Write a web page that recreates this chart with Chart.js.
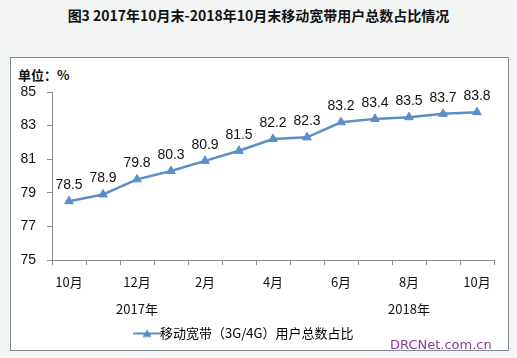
<!DOCTYPE html>
<html>
<head>
<meta charset="utf-8">
<script src="https://cdn.jsdelivr.net/npm/chart.js@4"></script>
<style>
  html, body { margin: 0; padding: 0; background: #f3f5f5; }
  body { width: 517px; height: 358px; position: relative; overflow: hidden; font-family: "Noto Sans CJK SC", sans-serif; }
  #title { position: absolute; left: 0; top: 5px; width: 517px; text-align: center; font-size: 14px; font-weight: bold; color: #111; }
  #box { position: absolute; left: 10px; top: 57px; width: 497px; height: 292px; border: 1px solid #7f8c94; background: #fff; }
  #unit { position: absolute; left: 18px; top: 65px; font-size: 13px; font-weight: bold; color: #111; }
  #mark { position: absolute; left: 390px; top: 337px; font-size: 13px; color: #8a3a9a; font-family: "DejaVu Sans", sans-serif; }
  canvas { position: absolute; left: 0; top: 0; }
</style>
</head>
<body>
<div id="title">图3 2017年10月末-2018年10月末移动宽带用户总数占比情况</div>
<div id="box"></div>
<div id="unit">单位：%</div>
<canvas id="chart" width="517" height="358"></canvas>
<div id="mark">DRCNet.com.cn</div>
<script>
// 2017年10月 - 2018年10月
const months = ['10月', '11月', '12月', '1月', '2月', '3月', '4月', '5月', '6月', '7月', '8月', '9月', '10月'];
const shownMonths = [true, false, true, false, true, false, true, false, true, false, true, false, true];
const yearLabels = ['', '', '2017年', '', '', '', '', '', '', '', '2018年', '', ''];
const share = [78.5, 78.9, 79.8, 80.3, 80.9, 81.5, 82.2, 82.3, 83.2, 83.4, 83.5, 83.7, 83.8];
const seriesName = '移动宽带（3G/4G）用户总数占比';
const lineColor = '#5b8ec9';

const labels = months.map((m, i) => {
    const first = shownMonths[i] ? m : '';
    return yearLabels[i] ? [first, yearLabels[i]] : first;
});

// legend symbol: line with triangle
const legendIcon = document.createElement('canvas');
legendIcon.width = 28;
legendIcon.height = 10;
(function() {
    const c = legendIcon.getContext('2d');
    c.strokeStyle = lineColor;
    c.lineWidth = 2;
    c.beginPath();
    c.moveTo(0, 5);
    c.lineTo(28, 5);
    c.stroke();
    c.fillStyle = lineColor;
    c.beginPath();
    c.moveTo(14, 1);
    c.lineTo(18.5, 8.5);
    c.lineTo(9.5, 8.5);
    c.closePath();
    c.fill();
})();

const valueLabels = {
    id: 'valueLabels',
    afterDatasetsDraw(chart) {
        const ctx = chart.ctx;
        const meta = chart.getDatasetMeta(0);
        ctx.save();
        ctx.font = '14px "Liberation Sans", sans-serif';
        ctx.fillStyle = '#111';
        ctx.textAlign = 'center';
        ctx.textBaseline = 'middle';
        meta.data.forEach((pt, i) => {
            ctx.fillText(share[i].toFixed(1), pt.x, pt.y - 16);
        });
        ctx.restore();
    }
};

new Chart(document.getElementById('chart'), {
    type: 'line',
    data: {
        labels: labels,
        datasets: [{
            label: seriesName,
            data: share,
            borderColor: lineColor,
            backgroundColor: lineColor,
            borderWidth: 2.5,
            pointStyle: 'triangle',
            pointRadius: 5,
            pointBorderWidth: 1,
            tension: 0
        }]
    },
    options: {
        responsive: false,
        animation: false,
        layout: { padding: { left: 0, right: 23, top: 92, bottom: 8 } },
        scales: {
            x: {
                offset: true,
                afterFit: s => { s.height = 57; },
                grid: { offset: true, drawOnChartArea: false, drawTicks: true, tickLength: 5, color: '#8c8c8c' },
                border: { color: '#8c8c8c', width: 1 },
                ticks: {
                    autoSkip: false,
                    maxRotation: 0,
                    padding: 3,
                    color: '#111',
                    font: { size: 13, family: '"Noto Sans CJK SC", sans-serif', lineHeight: 2.1 }
                }
            },
            y: {
                min: 75,
                max: 85,
                afterFit: s => { s.width = 52; },
                grid: { drawOnChartArea: false, drawTicks: true, tickLength: 5, color: '#8c8c8c' },
                border: { color: '#8c8c8c', width: 1 },
                ticks: {
                    stepSize: 2,
                    padding: 11,
                    color: '#111',
                    font: { size: 14, family: '"Liberation Sans", sans-serif' }
                }
            }
        },
        plugins: {
            legend: {
                position: 'bottom',
                labels: {
                    usePointStyle: true,
                    color: '#111',
                    font: { size: 13, family: '"Noto Sans CJK SC", sans-serif' },
                    generateLabels: chart => [{
                        text: seriesName,
                        pointStyle: legendIcon,
                        fillStyle: lineColor,
                        strokeStyle: lineColor,
                        lineWidth: 0,
                        datasetIndex: 0
                    }]
                }
            },
            tooltip: { enabled: false }
        }
    },
    plugins: [valueLabels]
});
</script>
</body>
</html>
